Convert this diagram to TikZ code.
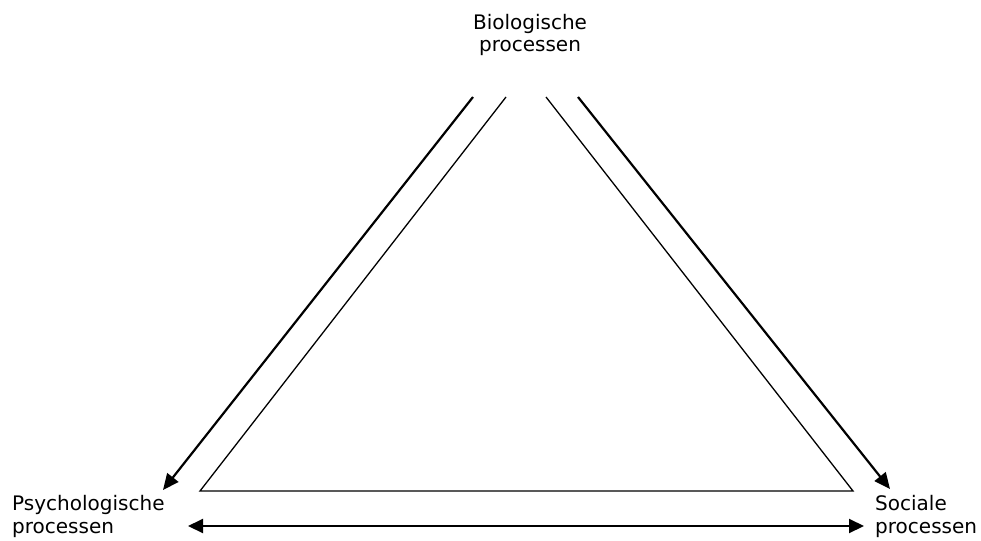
\documentclass[tikz,border=0pt]{standalone}
\usepackage{fontspec}
\setmainfont{DejaVu Sans}
\usetikzlibrary{arrows.meta}
\begin{document}
\begin{tikzpicture}[x=1pt,y=-1pt,
  lbl/.style={inner sep=0pt, font=\fontsize{20pt}{22.5pt}\selectfont},
  thin line/.style={line width=1.3pt, line join=miter},
  flow/.style={line width=2.2pt, -{Triangle[length=16pt,width=14pt]}},
  twoway/.style={line width=2pt, {Triangle[length=15pt,width=14pt]}-{Triangle[length=15pt,width=14pt]}}]
\useasboundingbox (0,0) rectangle (981,540);
% labels
\node[lbl, anchor=north, align=center] (bio) at (530,14.1) {Biologische\\processen};
\node[lbl, anchor=north west, align=left] (psy) at (12,495.5) {Psychologische\\processen};
\node[lbl, anchor=north west, align=left] (soc) at (875,495.5) {Sociale\\processen};
% inner triangle
\coordinate (tl) at (506,97);
\coordinate (tr) at (546,97);
\coordinate (bl) at (200,491);
\coordinate (br) at (853,491);
\draw[thin line] (tl) -- (bl) -- (br) -- (tr);
% arrows
\coordinate (a1s) at (473,97);
\coordinate (a1e) at (163,490);
\coordinate (a2s) at (578,97);
\coordinate (a2e) at (890,489);
\coordinate (a3s) at (188,526);
\coordinate (a3e) at (864,526);
\draw[flow] (a1s) -- (a1e);
\draw[flow] (a2s) -- (a2e);
\draw[twoway] (a3s) -- (a3e);
\end{tikzpicture}
\end{document}
